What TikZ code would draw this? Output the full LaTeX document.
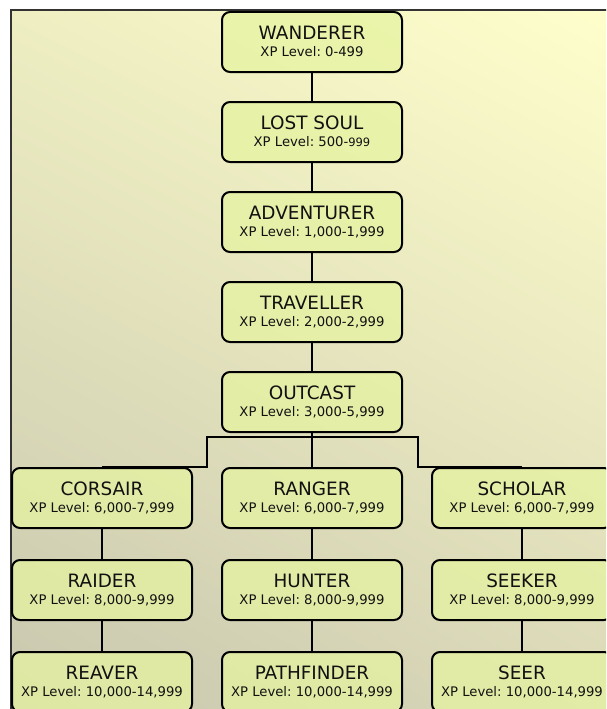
\documentclass[tikz,border=0pt]{standalone}
\usepackage{fontspec}
\setmainfont{DejaVu Sans}
\frenchspacing
\usetikzlibrary{calc,shadings}
\definecolor{txt}{HTML}{111111}
\definecolor{boxfill}{HTML}{E6F3A0}
\definecolor{bgUR}{HTML}{FFFFCC}
\definecolor{bgUL}{HTML}{EEEEC2}
\definecolor{bgLL}{HTML}{C8C6AE}
\definecolor{bgLR}{HTML}{DAD8B8}
\tikzset{
  rank/.style={draw=black, line width=2pt, rounded corners=8pt, fill=boxfill, fill opacity=0.75,
    minimum width=180pt, minimum height=60pt, inner sep=0pt},
  ttl/.style={anchor=base, text=txt, font=\fontsize{18.4}{19}\selectfont, inner sep=0pt},
  sub/.style={anchor=base, text=txt, font=\fontsize{13.2}{14}\selectfont, inner sep=0pt},
  link/.style={draw=black, line width=2.8pt}
}
\newcommand{\rankbox}[5]{%
  \node[rank] (#1) at (#2,#3) {};
  \node[ttl] (#1t) at ($(#1.center)+(0,-2.7)$) {#4};
  \node[sub] (#1s) at ($(#1.center)+(0,14.7)$) {#5};
}
\begin{document}
\begin{tikzpicture}[x=1pt,y=-1pt]
\useasboundingbox (0,0) rectangle (606,709);
\clip (0,0) rectangle (606,709);
\fill[white] (0,0) rectangle (606,709);
\shade[upper left=bgUL, upper right=bgUR, lower left=bgLL, lower right=bgLR] (11,10) rectangle (620,720);
\draw[black!80, line width=1.2pt] (11,720) -- (11,10) -- (620,10);

\rankbox{wanderer}{312}{42}{WANDERER}{XP Level: 0-499}
\rankbox{lostsoul}{312}{132}{LOST SOUL}{XP Level: 500-{\fontsize{11.5}{12}\selectfont 999}}
\rankbox{adventurer}{312}{222}{ADVENTURER}{XP Level: 1,000-1,999}
\rankbox{traveller}{312}{312}{TRAVELLER}{XP Level: 2,000-2,999}
\rankbox{outcast}{312}{402}{OUTCAST}{XP Level: 3,000-5,999}

\rankbox{corsair}{102}{498}{CORSAIR}{XP Level: 6,000-7,999}
\rankbox{ranger}{312}{498}{RANGER}{XP Level: 6,000-7,999}
\rankbox{scholar}{522}{498}{SCHOLAR}{XP Level: 6,000-7,999}

\rankbox{raider}{102}{590}{RAIDER}{XP Level: 8,000-9,999}
\rankbox{hunter}{312}{590}{HUNTER}{XP Level: 8,000-9,999}
\rankbox{seeker}{522}{590}{SEEKER}{XP Level: 8,000-9,999}

\rankbox{reaver}{102}{682}{REAVER}{XP Level: 10,000-14,999}
\rankbox{pathfinder}{312}{682}{PATHFINDER}{XP Level: 10,000-14,999}
\rankbox{seer}{522}{682}{SEER}{XP Level: 10,000-14,999}

\draw[link] (wanderer.south) -- (lostsoul.north);
\draw[link] (lostsoul.south) -- (adventurer.north);
\draw[link] (adventurer.south) -- (traveller.north);
\draw[link] (traveller.south) -- (outcast.north);
\draw[link] (outcast.south) -- (ranger.north);

\coordinate (jl) at (207,437);
\coordinate (jr) at (418,437);
\draw[link, line join=miter] (corsair.north) -- (corsair.north -| jl) -- (jl) -- (jr) -- (jr |- scholar.north) -- (scholar.north);

\draw[link] (corsair.south) -- (raider.north);
\draw[link] (raider.south) -- (reaver.north);
\draw[link] (ranger.south) -- (hunter.north);
\draw[link] (hunter.south) -- (pathfinder.north);
\draw[link] (scholar.south) -- (seeker.north);
\draw[link] (seeker.south) -- (seer.north);
\end{tikzpicture}
\end{document}
